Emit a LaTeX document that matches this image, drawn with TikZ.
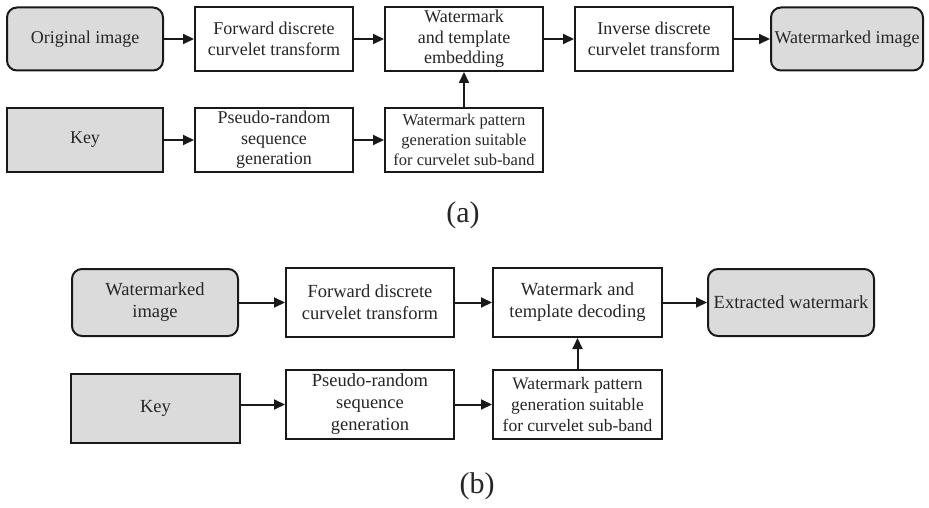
\documentclass[tikz,border=0pt]{standalone}
\usepackage{fontspec}
\setmainfont{Liberation Serif}
\usetikzlibrary{arrows.meta}
\begin{document}
\begin{tikzpicture}[x=1pt,y=-1pt,
    blk/.style={draw=black!90,line width=2pt,fill=white,text=black!85,align=center,inner sep=0pt},
    io/.style={blk,fill=black!14,rounded corners=10pt},
    keybox/.style={blk,fill=black!14},
    flow/.style={line width=2pt,draw=black!90,-{Triangle[length=11pt,width=10pt]}},
    tag/.style={font=\fontsize{30}{34}\selectfont,text=black!85}]
  \useasboundingbox (0,0) rectangle (929,508);
  % (a) embedding
  \begin{scope}[font=\fontsize{18}{20.5}\selectfont,minimum height=64pt]
  \draw
    (85,39) node[io,minimum width=156pt,minimum height=63pt] (origA){Original image}
    (274,39) node[blk,minimum width=158pt] (fwdA){Forward discrete\\curvelet transform}
    (464,39) node[blk,minimum width=158pt] (embA){Watermark\\and template\\embedding}
    (654,39) node[blk,minimum width=158pt] (invA){Inverse discrete\\curvelet transform}
    (847,39) node[io,minimum width=152pt,minimum height=63pt] (wmA){Watermarked image}
    (85,140) node[keybox,minimum width=156pt] (keyA){Key}
    (274,140) node[blk,minimum width=158pt] (prngA){Pseudo-random\\sequence\\generation}
    (464,140) node[blk,minimum width=158pt,font=\fontsize{16.5}{20}\selectfont] (patA){Watermark pattern\\generation suitable\\for curvelet sub-band};
  \end{scope}
  \node[tag] (capA) at (463,215) {(a)};
  % (b) extraction
  \begin{scope}[font=\fontsize{18.5}{22}\selectfont,minimum height=69pt]
  \draw
    (155,302.5) node[io,minimum width=166pt,minimum height=67pt] (wmB){Watermarked\\image}
    (370,302.5) node[blk,minimum width=168pt] (fwdB){Forward discrete\\curvelet transform}
    (577.5,302.5) node[blk,minimum width=169pt] (decB){Watermark and\\template decoding}
    (791,302.5) node[io,minimum width=166pt,minimum height=67pt] (extB){Extracted watermark}
    (155.5,408.5) node[keybox,minimum width=169pt] (keyB){Key}
    (370,404.5) node[blk,minimum width=168pt] (prngB){Pseudo-random\\sequence\\generation}
    (577.5,404.5) node[blk,minimum width=169pt,font=\fontsize{17.5}{21}\selectfont] (patB){Watermark pattern\\generation suitable\\for curvelet sub-band};
  \end{scope}
  \node[tag] (capB) at (477,486) {(b)};
  \begin{scope}[flow]
    \draw (origA) to (fwdA);
    \draw (fwdA) to (embA);
    \draw (embA) to (invA);
    \draw (invA) to (wmA);
    \draw (keyA) to (prngA);
    \draw (prngA) to (patA);
    \draw (patA) to (embA);
    \draw (wmB) to (fwdB);
    \draw (fwdB) to (decB);
    \draw (decB) to (extB);
    \draw (keyB.east |- prngB) to (prngB);
    \draw (prngB) to (patB);
    \draw (patB) to (decB);
  \end{scope}
\end{tikzpicture}
\end{document}
